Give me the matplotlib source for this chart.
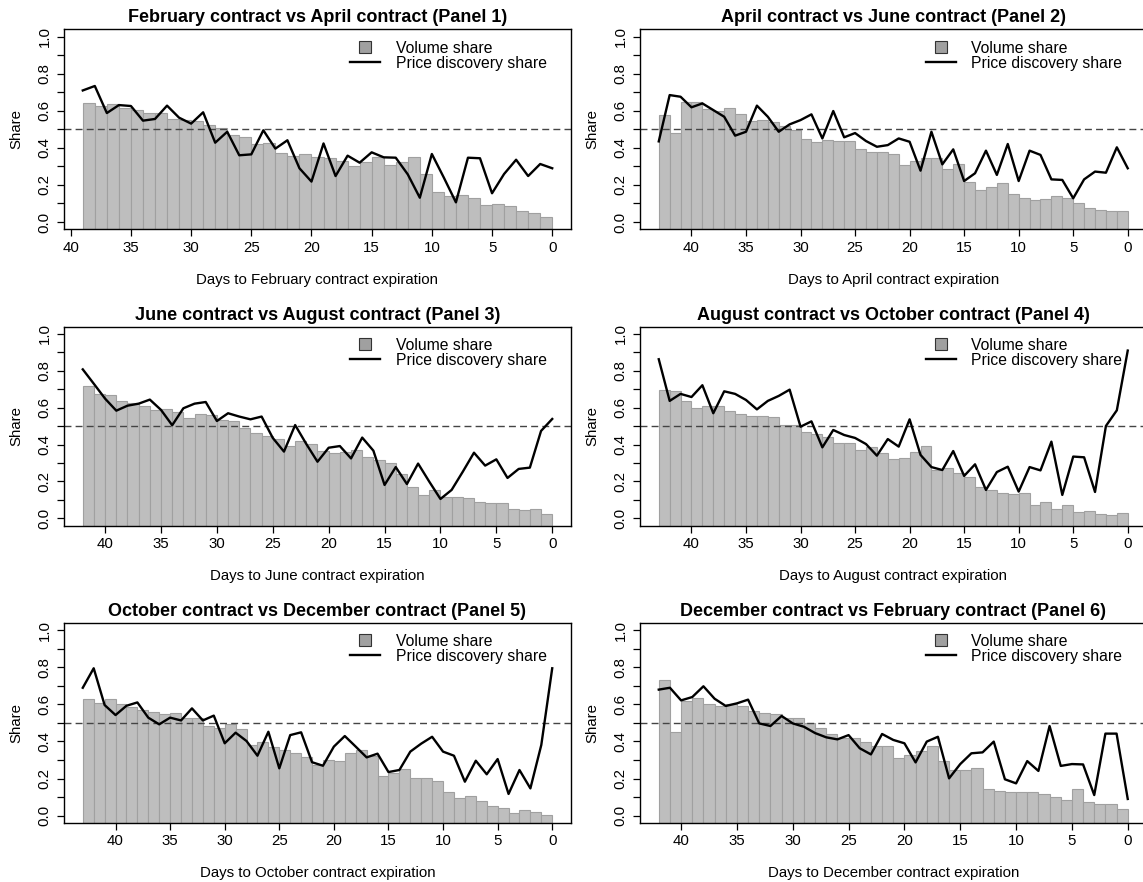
import numpy as np
import matplotlib.pyplot as plt
from matplotlib.lines import Line2D

plt.rcParams['font.family'] = ['Liberation Sans', 'DejaVu Sans']

# panel titles and x-axis labels
titles = ["February contract vs April contract (Panel 1)",
          "April contract vs June contract (Panel 2)",
          "June contract vs August contract (Panel 3)",
          "August contract vs October contract (Panel 4)",
          "October contract vs December contract (Panel 5)",
          "December contract vs February contract (Panel 6)"]
xlabels = ["Days to February contract expiration",
           "Days to April contract expiration",
           "Days to June contract expiration",
           "Days to August contract expiration",
           "Days to October contract expiration",
           "Days to December contract expiration"]

# volume share (one bar per day, from the earliest day down to day 1)
vol1 = [0.644, 0.624, 0.637, 0.615, 0.603, 0.590, 0.586, 0.556, 0.549, 0.547,
        0.523, 0.505, 0.469, 0.457, 0.419, 0.426, 0.372, 0.356, 0.365, 0.350,
        0.344, 0.329, 0.302, 0.324, 0.349, 0.306, 0.322, 0.349, 0.257, 0.162,
        0.138, 0.146, 0.130, 0.092, 0.097, 0.085, 0.058, 0.047, 0.025]
vol2 = [0.577, 0.478, 0.646, 0.645, 0.608, 0.601, 0.613, 0.585, 0.547, 0.552,
        0.538, 0.520, 0.495, 0.450, 0.432, 0.444, 0.437, 0.437, 0.396, 0.377,
        0.380, 0.367, 0.308, 0.329, 0.344, 0.347, 0.286, 0.311, 0.218, 0.174,
        0.187, 0.209, 0.153, 0.129, 0.119, 0.122, 0.138, 0.129, 0.104, 0.076,
        0.065, 0.059, 0.059]
vol3 = [0.720, 0.675, 0.667, 0.635, 0.624, 0.609, 0.588, 0.591, 0.575, 0.546,
        0.568, 0.559, 0.532, 0.526, 0.488, 0.463, 0.447, 0.430, 0.392, 0.421,
        0.405, 0.365, 0.353, 0.358, 0.371, 0.331, 0.316, 0.298, 0.239, 0.172,
        0.127, 0.152, 0.118, 0.114, 0.110, 0.090, 0.085, 0.083, 0.049, 0.047,
        0.052, 0.025]
vol4 = [0.698, 0.693, 0.637, 0.599, 0.611, 0.608, 0.580, 0.566, 0.557, 0.557,
        0.548, 0.505, 0.505, 0.467, 0.456, 0.439, 0.409, 0.409, 0.371, 0.387,
        0.354, 0.322, 0.327, 0.360, 0.394, 0.262, 0.271, 0.248, 0.226, 0.168,
        0.152, 0.136, 0.130, 0.137, 0.072, 0.090, 0.051, 0.071, 0.033, 0.042,
        0.022, 0.020, 0.027]
vol5 = [0.628, 0.605, 0.627, 0.600, 0.587, 0.571, 0.560, 0.546, 0.551, 0.528,
        0.524, 0.481, 0.472, 0.494, 0.469, 0.379, 0.397, 0.372, 0.352, 0.339,
        0.318, 0.271, 0.298, 0.296, 0.339, 0.354, 0.320, 0.215, 0.232, 0.251,
        0.203, 0.203, 0.187, 0.127, 0.095, 0.108, 0.079, 0.052, 0.043, 0.013,
        0.029, 0.020, 0.005]
vol6 = [0.731, 0.449, 0.619, 0.632, 0.601, 0.592, 0.600, 0.591, 0.564, 0.553,
        0.546, 0.524, 0.524, 0.497, 0.470, 0.440, 0.417, 0.418, 0.395, 0.373,
        0.377, 0.309, 0.327, 0.347, 0.375, 0.296, 0.248, 0.246, 0.257, 0.142,
        0.133, 0.126, 0.126, 0.126, 0.117, 0.099, 0.084, 0.142, 0.072, 0.061,
        0.061, 0.034]

# price discovery share (one point per day, from the earliest day down to day 0)
pds1 = [0.710, 0.734, 0.588, 0.631, 0.626, 0.547, 0.556, 0.628, 0.563, 0.531,
        0.592, 0.428, 0.487, 0.360, 0.365, 0.495, 0.396, 0.441, 0.290, 0.218,
        0.424, 0.248, 0.358, 0.320, 0.376, 0.349, 0.347, 0.257, 0.131, 0.367,
        0.239, 0.106, 0.347, 0.344, 0.155, 0.259, 0.336, 0.248, 0.313, 0.290]
pds2 = [0.435, 0.685, 0.676, 0.619, 0.640, 0.604, 0.568, 0.466, 0.487, 0.628,
        0.568, 0.487, 0.527, 0.550, 0.581, 0.451, 0.599, 0.457, 0.480, 0.437,
        0.406, 0.415, 0.451, 0.433, 0.277, 0.487, 0.311, 0.392, 0.221, 0.263,
        0.385, 0.254, 0.421, 0.221, 0.385, 0.362, 0.230, 0.227, 0.128, 0.230,
        0.272, 0.266, 0.403, 0.290]
pds3 = [0.808, 0.729, 0.649, 0.584, 0.611, 0.622, 0.644, 0.588, 0.505, 0.597,
        0.622, 0.631, 0.528, 0.570, 0.552, 0.537, 0.552, 0.436, 0.362, 0.506,
        0.403, 0.307, 0.383, 0.392, 0.325, 0.438, 0.367, 0.181, 0.278, 0.186,
        0.297, 0.199, 0.105, 0.154, 0.253, 0.356, 0.286, 0.320, 0.219, 0.268,
        0.275, 0.474, 0.539]
pds4 = [0.863, 0.637, 0.675, 0.658, 0.722, 0.570, 0.689, 0.675, 0.642, 0.591,
        0.637, 0.664, 0.698, 0.497, 0.526, 0.385, 0.479, 0.452, 0.436, 0.403,
        0.340, 0.430, 0.389, 0.537, 0.344, 0.278, 0.262, 0.365, 0.230, 0.293,
        0.154, 0.251, 0.280, 0.145, 0.278, 0.260, 0.416, 0.127, 0.335, 0.331,
        0.143, 0.501, 0.586, 0.910]
pds5 = [0.689, 0.794, 0.596, 0.542, 0.592, 0.610, 0.528, 0.492, 0.528, 0.513,
        0.578, 0.513, 0.539, 0.390, 0.447, 0.402, 0.323, 0.452, 0.255, 0.434,
        0.449, 0.288, 0.269, 0.372, 0.429, 0.372, 0.314, 0.334, 0.235, 0.246,
        0.345, 0.388, 0.425, 0.345, 0.323, 0.183, 0.296, 0.223, 0.305, 0.117,
        0.246, 0.147, 0.381, 0.794]
pds6 = [0.679, 0.689, 0.621, 0.639, 0.697, 0.630, 0.591, 0.605, 0.625, 0.497,
        0.483, 0.537, 0.497, 0.479, 0.445, 0.422, 0.411, 0.434, 0.363, 0.330,
        0.440, 0.408, 0.390, 0.287, 0.399, 0.425, 0.201, 0.278, 0.336, 0.341,
        0.399, 0.196, 0.174, 0.294, 0.241, 0.483, 0.268, 0.278, 0.276, 0.111,
        0.442, 0.442, 0.090]

xticks = [40, 35, 30, 25, 20, 15, 10, 5, 0]

vols = [vol1, vol2, vol3, vol4, vol5, vol6]
pdss = [pds1, pds2, pds3, pds4, pds5, pds6]

W, H = 1143, 882
# axes boxes in pixels: left, right / top, bottom
col_x = [(64, 571), (640, 1146.5)]
row_y = [(29.3, 229.4), (326.6, 525.7), (622.6, 823.1)]

fig = plt.figure(figsize=(W / 100, H / 100), dpi=100)

ymin, ymax = -0.04, 1.04

for i in range(6):
    r, c = divmod(i, 2)
    x0, x1 = col_x[c]
    y0, y1 = row_y[r]
    ax = fig.add_axes([x0 / W, 1 - y1 / H, (x1 - x0) / W, (y1 - y0) / H])

    vol = np.array(vols[i])
    pds = np.array(pdss[i])
    n = len(vol)
    bar_days = np.arange(n, 0, -1)
    line_days = np.arange(n, -1, -1)

    ax.bar(bar_days - 0.5, vol - ymin, width=1.0, bottom=ymin,
           color='#bebebe', edgecolor='#a0a0a0', linewidth=0.8, zorder=1)
    ax.axhline(0.5, color='#444444', lw=1.0, ls=(0, (5, 3)), zorder=2)
    ax.plot(line_days, pds, color='black', lw=1.7, zorder=3)

    ext = 0.04 * n
    ax.set_xlim(n + ext, -ext)
    ax.set_ylim(ymin, ymax)

    ax.set_xticks(xticks)
    ax.set_xticklabels([str(t) for t in xticks])
    ax.set_yticks([0.0, 0.2, 0.4, 0.6, 0.8, 1.0])
    ax.set_yticklabels(["0.0", "0.2", "0.4", "0.6", "0.8", "1.0"])
    ax.set_yticks([0.1, 0.3, 0.5, 0.7, 0.9], minor=True)
    ax.tick_params(axis='both', which='both', direction='out', length=5,
                   width=0.9, labelsize=10.8, pad=3)
    ax.tick_params(axis='y', labelrotation=90, pad=4)
    for lab in ax.get_yticklabels():
        lab.set_va('center')

    for sp in ax.spines.values():
        sp.set_linewidth(1.0)

    ax.set_title(titles[i], fontsize=13, fontweight='bold', pad=5)
    ax.set_xlabel(xlabels[i], fontsize=10.8, labelpad=13)
    ax.set_ylabel("Share", fontsize=10.8, labelpad=10)

    handles = [Line2D([], [], marker='s', ls='none', mfc='#a0a0a0',
                      mec='#333333', mew=0.8, ms=8),
               Line2D([], [], color='black', lw=1.7)]
    ax.legend(handles, ["Volume share", "Price discovery share"],
              loc='upper left', bbox_to_anchor=(0.552, 0.975), frameon=False,
              fontsize=11.3, handlelength=1.9, handletextpad=1.0,
              labelspacing=0.0, borderaxespad=0)

fig.savefig("out.png", dpi=100)
